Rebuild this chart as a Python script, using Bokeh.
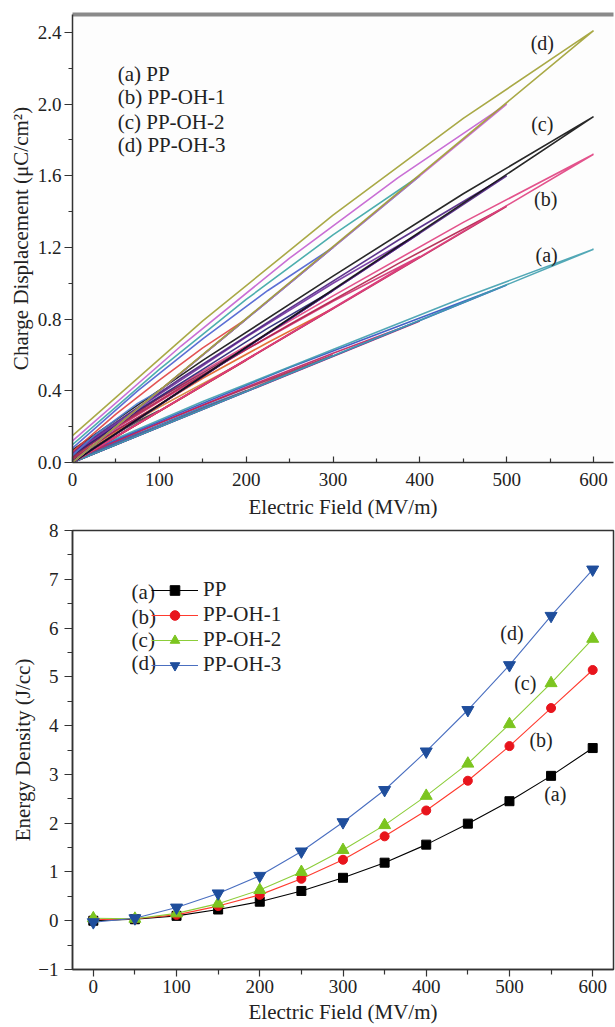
from bokeh.plotting import figure
from bokeh.layouts import column
from bokeh.models import (FixedTicker, PrintfTickFormatter, Legend, LegendItem,
                          Range1d, ColumnDataSource, LinearAxis)
from bokeh.embed import file_html
from bokeh.resources import INLINE
from bokeh.core.properties import value

FONT = "Liberation Serif"
FS_TICK = "19px"
FS_TITLE = "21px"
FS_TEXT = "20px"

# ---------------- top panel: D-E loops ----------------
E_max = [100, 200, 300, 400, 500, 600]
E_q3 = [75, 150, 225, 300, 375, 450]
E_half = [50, 100, 150, 200, 250, 300]
E_q1 = [25, 50, 75, 100, 125, 150]

# (a) PP
D_max_a = [0.20, 0.40, 0.60, 0.79, 0.99, 1.19]
D_q3_a = [0.16, 0.31, 0.46, 0.61, 0.76, 0.92]
D_mid_a = [0.11, 0.21, 0.32, 0.42, 0.53, 0.63]
D_q1_a = [0.06, 0.11, 0.17, 0.22, 0.28, 0.34]
D_rem_a = [0.005, 0.01, 0.015, 0.02, 0.025, 0.03]
col_a = ["#c04080", "#3070b0", "#a03050", "#c02060", "#3050c0", "#3f9fae"]
# (b) PP-OH-1
D_max_b = [0.29, 0.57, 0.86, 1.15, 1.43, 1.72]
D_q3_b = [0.23, 0.44, 0.67, 0.90, 1.11, 1.34]
D_mid_b = [0.16, 0.31, 0.47, 0.63, 0.77, 0.93]
D_q1_b = [0.09, 0.17, 0.25, 0.34, 0.42, 0.51]
D_rem_b = [0.01, 0.02, 0.03, 0.04, 0.05, 0.06]
col_b = ["#404040", "#d08030", "#e06020", "#d03070", "#b0204a", "#e0407f"]
# (c) PP-OH-2
D_max_c = [0.32, 0.64, 0.96, 1.28, 1.60, 1.93]
D_q3_c = [0.25, 0.50, 0.75, 1.00, 1.24, 1.50]
D_mid_c = [0.18, 0.36, 0.52, 0.70, 0.86, 1.04]
D_q1_c = [0.10, 0.20, 0.29, 0.38, 0.47, 0.57]
D_rem_c = [0.02, 0.03, 0.04, 0.05, 0.06, 0.07]
col_c = ["#a02060", "#8b2252", "#202070", "#7030a0", "#4b1f80", "#111111"]
# (d) PP-OH-3
D_max_d = [0.40, 0.80, 1.20, 1.60, 2.00, 2.41]
D_q3_d = [0.33, 0.64, 0.96, 1.27, 1.59, 1.92]
D_mid_d = [0.24, 0.46, 0.69, 0.91, 1.14, 1.38]
D_q1_d = [0.15, 0.27, 0.40, 0.52, 0.65, 0.79]
D_rem_d = [0.04, 0.06, 0.08, 0.10, 0.12, 0.15]
col_d = ["#5080d0", "#e04040", "#4a5fd0", "#3aa5a5", "#c35fd0", "#a0a032"]

top_legend = ["(a) PP", "(b) PP-OH-1", "(c) PP-OH-2", "(d) PP-OH-3"]
top_legend_x = [52, 52, 52, 52]
top_legend_y = [2.17, 2.04, 1.90, 1.77]
top_tags = ["(d)", "(c)", "(b)", "(a)"]
top_tags_x = [541, 541, 545, 546]
top_tags_y = [2.34, 1.89, 1.47, 1.16]

# ---------------- bottom panel: energy density ----------------
E_field = [0, 50, 100, 150, 200, 250, 300, 350, 400, 450, 500, 550, 600]
W_PP = [0.00, 0.03, 0.10, 0.23, 0.39, 0.61, 0.88, 1.19, 1.56, 1.99, 2.45, 2.97, 3.54]
W_OH1 = [0.02, 0.04, 0.12, 0.30, 0.53, 0.86, 1.25, 1.73, 2.26, 2.87, 3.58, 4.36, 5.14]
W_OH2 = [0.05, 0.04, 0.15, 0.35, 0.63, 1.00, 1.45, 1.96, 2.56, 3.22, 4.03, 4.87, 5.78]
W_OH3 = [-0.03, 0.05, 0.27, 0.56, 0.92, 1.42, 2.02, 2.68, 3.47, 4.32, 5.24, 6.25, 7.20]
series_names = ["PP", "PP-OH-1", "PP-OH-2", "PP-OH-3"]
series_tags = ["(a)", "(b)", "(c)", "(d)"]
bot_tags_x = [555, 538, 519, 503]
bot_tags_y = [2.6, 3.71, 4.87, 5.9]
prefix_x = [46, 46, 46, 46]
prefix_y = [6.73, 6.22, 5.75, 5.28]


def style_axes(p):
    for ax in (p.xaxis[0], p.yaxis[0]):
        ax.major_label_text_font = FONT
        ax.major_label_text_font_size = FS_TICK
        ax.major_label_text_color = "#222222"
        ax.axis_label_text_font = FONT
        ax.axis_label_text_font_size = FS_TITLE
        ax.axis_label_text_font_style = "normal"
        ax.axis_label_text_color = "#222222"
        ax.axis_line_color = "#333333"
        ax.axis_line_width = 1.5
        ax.major_tick_line_color = "#333333"
        ax.minor_tick_line_color = "#333333"
        ax.major_tick_line_width = 1.2
        ax.minor_tick_line_width = 1.2
    p.xgrid.visible = False
    p.ygrid.visible = False


# ---------- top figure ----------
p1 = figure(width=615, height=521, x_range=Range1d(0, 623), y_range=Range1d(0, 2.5),
            output_backend="svg", toolbar_location=None,
            min_border_left=72, min_border_right=0, min_border_top=14, min_border_bottom=58)
p1.outline_line_color = None
p1.background_fill_color = "#fdfdfd"
style_axes(p1)
p1.xaxis.ticker = FixedTicker(ticks=[0, 100, 200, 300, 400, 500, 600],
                              minor_ticks=[50, 150, 250, 350, 450, 550])
p1.xaxis.major_tick_in = 6
p1.xaxis.major_tick_out = 0
p1.xaxis.minor_tick_in = 4
p1.xaxis.minor_tick_out = 0
p1.xaxis.major_label_standoff = 10
p1.xaxis.axis_label = "Electric Field (MV/m)"
p1.xaxis.axis_label_standoff = 6
p1.yaxis.ticker = FixedTicker(ticks=[0, 0.4, 0.8, 1.2, 1.6, 2.0, 2.4],
                              minor_ticks=[0.2, 0.6, 1.0, 1.4, 1.8, 2.2])
p1.yaxis.formatter = PrintfTickFormatter(format="%.1f")
p1.yaxis.major_tick_out = 8
p1.yaxis.major_tick_in = 0
p1.yaxis.minor_tick_out = 4
p1.yaxis.minor_tick_in = 0
p1.yaxis.major_label_standoff = 3
p1.yaxis.axis_label = "Charge Displacement (μC/cm²)"
p1.yaxis.axis_label_standoff = 2

top_border = LinearAxis(ticker=FixedTicker(ticks=[]), major_label_text_font_size="0px",
                        major_tick_out=0, major_tick_in=0, minor_tick_out=0, minor_tick_in=0,
                        axis_line_color="#8a8a8a", axis_line_width=4)
p1.add_layout(top_border, "above")

for dmax, dq3, dmid, dq1, drem, cols in [
        (D_max_a, D_q3_a, D_mid_a, D_q1_a, D_rem_a, col_a),
        (D_max_b, D_q3_b, D_mid_b, D_q1_b, D_rem_b, col_b),
        (D_max_c, D_q3_c, D_mid_c, D_q1_c, D_rem_c, col_c),
        (D_max_d, D_q3_d, D_mid_d, D_q1_d, D_rem_d, col_d)]:
    xs = [[0, e0, e1, e2, e3, 0] for e0, e1, e2, e3 in zip(E_max, E_q3, E_half, E_q1)]
    ys = [[0, a, b, c, d, r] for a, b, c, d, r in zip(dmax, dq3, dmid, dq1, drem)]
    p1.multi_line(xs=xs, ys=ys, line_color=cols, line_width=1.6, line_alpha=0.9)

p1.text(x=top_legend_x, y=top_legend_y, text=top_legend, text_font=value(FONT),
        text_font_size=FS_TITLE, text_align="left", text_baseline="middle", text_color="#222222")
p1.text(x=top_tags_x, y=top_tags_y, text=top_tags, text_font=value(FONT),
        text_font_size=FS_TEXT, text_align="center", text_baseline="middle", text_color="#222222")

# ---------- bottom figure ----------
p2 = figure(width=615, height=505, x_range=Range1d(-25, 625), y_range=Range1d(-1, 8),
            output_backend="svg", toolbar_location=None,
            min_border_left=72, min_border_right=2, min_border_top=9, min_border_bottom=56)
p2.outline_line_color = "#333333"
p2.outline_line_width = 1.5
style_axes(p2)
p2.xaxis.ticker = FixedTicker(ticks=[0, 100, 200, 300, 400, 500, 600],
                              minor_ticks=[50, 150, 250, 350, 450, 550])
p2.xaxis.major_tick_out = 7
p2.xaxis.major_tick_in = 0
p2.xaxis.minor_tick_out = 5
p2.xaxis.minor_tick_in = 0
p2.xaxis.major_label_standoff = 3
p2.xaxis.axis_label = "Electric Field (MV/m)"
p2.xaxis.axis_label_standoff = 4
p2.yaxis.ticker = FixedTicker(ticks=[-1, 0, 1, 2, 3, 4, 5, 6, 7, 8],
                              minor_ticks=[-0.5, 0.5, 1.5, 2.5, 3.5, 4.5, 5.5, 6.5, 7.5])
p2.yaxis.major_label_overrides = {-1: "\u22121"}
p2.yaxis.major_tick_out = 8
p2.yaxis.major_tick_in = 0
p2.yaxis.minor_tick_out = 5
p2.yaxis.minor_tick_in = 0
p2.yaxis.major_label_standoff = 6
p2.yaxis.axis_label = "Energy Density (J/cc)"
p2.yaxis.axis_label_standoff = 0

styles = [
    ("#000000", "#000000", "square", 9),
    ("#ff3b2f", "#e8141c", "circle", 9),
    ("#8ccd3a", "#7cc520", "triangle", 12),
    ("#4a6fc0", "#1f4e9c", "inverted_triangle", 12),
]
items = []
for name, w, (lc, mc, mk, ms) in zip(series_names, [W_PP, W_OH1, W_OH2, W_OH3], styles):
    src = ColumnDataSource(dict(x=E_field, y=w))
    r1 = p2.line("x", "y", source=src, line_color=lc, line_width=1.1)
    r2 = p2.scatter("x", "y", source=src, marker=mk, size=ms, fill_color=mc, line_color=mc)
    items.append(LegendItem(label=name, renderers=[r1, r2]))

leg = Legend(items=items, location=(79, 292), padding=0, margin=0, spacing=-2,
             glyph_width=47, glyph_height=24, label_height=24, label_standoff=5,
             border_line_color=None, background_fill_alpha=0,
             label_text_font=FONT, label_text_font_size=FS_TITLE, label_text_color="#222222")
p2.add_layout(leg)

p2.text(x=prefix_x, y=prefix_y, text=series_tags, text_font=value(FONT),
        text_font_size=FS_TITLE, text_align="left", text_baseline="middle", text_color="#222222")
p2.text(x=bot_tags_x, y=bot_tags_y, text=series_tags, text_font=value(FONT),
        text_font_size=FS_TEXT, text_align="center", text_baseline="middle", text_color="#222222")

layout = column(p1, p2, spacing=0)
open("out.html", "w").write(file_html(layout, INLINE))
